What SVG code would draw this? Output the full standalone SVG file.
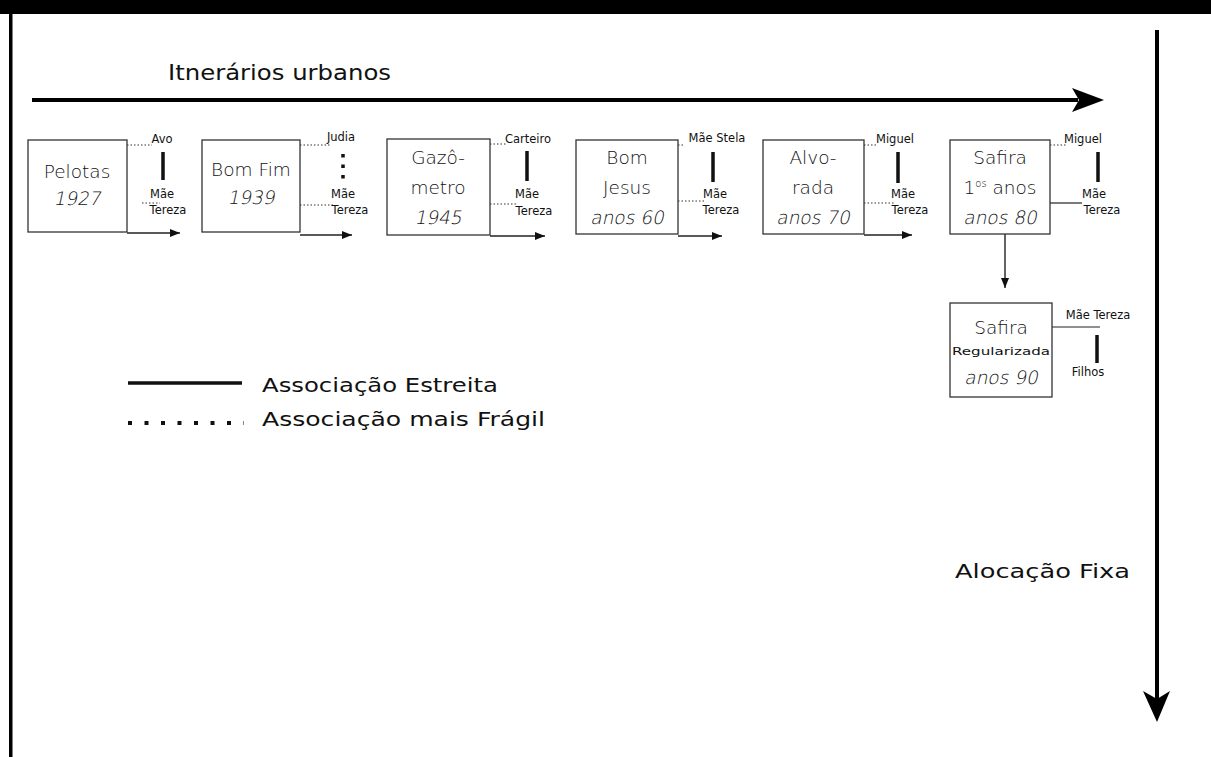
<svg xmlns="http://www.w3.org/2000/svg" width="1211" height="757" viewBox="0 0 1211 757">
<defs>
<style>
.t{font-family:"DejaVu Sans","Liberation Sans",sans-serif;fill:#111}
.bx{fill:#fff;stroke:#333;stroke-width:1.3}
.big{font-size:18.5px;font-weight:200}
.sm{font-size:11.5px}
.dot{stroke:#333;stroke-width:1;stroke-dasharray:1.5 2;fill:none}
.sol{stroke:#222;stroke-width:1.2;fill:none}
.bar{stroke:#111;stroke-width:3.5}
.arr{stroke:#222;stroke-width:1.4;fill:none}
</style>
<marker id="ah" viewBox="0 0 10 8" refX="10" refY="4" markerWidth="10" markerHeight="8" markerUnits="userSpaceOnUse" orient="auto">
<path d="M0,0 L10,4 L0,8 z" fill="#111"/>
</marker>
</defs>
<rect width="1211" height="757" fill="#fff"/>
<rect x="0" y="0" width="1211" height="14" fill="#000"/>
<rect x="9" y="14" width="3.5" height="743" fill="#000"/>

<g id="connectors">
  <line x1="32" y1="100" x2="1078" y2="100" stroke="#000" stroke-width="4"/>
  <polygon points="1072,88 1104,100 1072,112 1079,100" fill="#000"/>
  <line x1="1157" y1="30" x2="1157" y2="700" stroke="#000" stroke-width="4"/>
  <polygon points="1143,691 1157,722 1170,691 1157,699" fill="#000"/>
  <line class="dot" x1="127" y1="145" x2="152" y2="145"/>
  <line class="bar" x1="163" y1="152" x2="163" y2="180"/>
  <line class="dot" x1="142" y1="203" x2="160" y2="203"/>
  <line class="arr" x1="127" y1="233" x2="180" y2="233" marker-end="url(#ah)"/>
  <line class="dot" x1="300" y1="145" x2="330" y2="145"/>
  <line x1="343" y1="154" x2="343" y2="182" stroke="#111" stroke-width="3.5" stroke-dasharray="3.5 7"/>
  <line class="dot" x1="300" y1="205" x2="333" y2="205"/>
  <line class="arr" x1="300" y1="235" x2="352" y2="235" marker-end="url(#ah)"/>
  <line class="dot" x1="490" y1="144" x2="506" y2="144"/>
  <line class="bar" x1="527" y1="151" x2="527" y2="181"/>
  <line class="dot" x1="490" y1="204" x2="517" y2="204"/>
  <line class="arr" x1="490" y1="236" x2="545" y2="236" marker-end="url(#ah)"/>
  <line class="dot" x1="678" y1="145" x2="685" y2="145"/>
  <line class="bar" x1="713" y1="152" x2="713" y2="182"/>
  <line class="dot" x1="678" y1="201" x2="705" y2="201"/>
  <line class="arr" x1="678" y1="236" x2="722" y2="236" marker-end="url(#ah)"/>
  <line class="dot" x1="864" y1="145" x2="878" y2="145"/>
  <line class="bar" x1="898" y1="152" x2="898" y2="183"/>
  <line class="dot" x1="864" y1="203" x2="895" y2="203"/>
  <line class="arr" x1="864" y1="235" x2="912" y2="235" marker-end="url(#ah)"/>
  <line class="dot" x1="1050" y1="145" x2="1066" y2="145"/>
  <line class="bar" x1="1098" y1="152" x2="1098" y2="182"/>
  <line class="sol" x1="1050" y1="203" x2="1082" y2="203"/>
  <line class="arr" x1="1005" y1="234" x2="1005" y2="288" marker-end="url(#ah)"/>
  <line class="sol" x1="1052" y1="327" x2="1100" y2="327"/>
  <line class="bar" x1="1097" y1="335" x2="1097" y2="363"/>
  <line x1="128" y1="383" x2="242" y2="383" stroke="#111" stroke-width="3.5"/>
  <line x1="128" y1="423" x2="244" y2="423" stroke="#111" stroke-width="4" stroke-dasharray="4 12.5"/>
</g>

<text class="t" x="168" y="80" font-size="21" textLength="223" lengthAdjust="spacingAndGlyphs">Itnerários urbanos</text>

<g id="n1">
  <rect class="bx" x="28" y="140" width="99" height="92"/>
  <text class="t big" x="77" y="178" text-anchor="middle">Pelotas</text>
  <text class="t big" transform="translate(77,205) skewX(-12)" text-anchor="middle">1927</text>
  <text class="t sm" x="162" y="143" text-anchor="middle">Avo</text>
  <text class="t sm" x="162" y="198" text-anchor="middle">Mãe</text>
  <text class="t sm" x="168" y="214" text-anchor="middle">Tereza</text>
</g>
<g id="n2">
  <rect class="bx" x="202" y="140" width="98" height="92"/>
  <text class="t big" x="251" y="176" text-anchor="middle">Bom Fim</text>
  <text class="t big" transform="translate(251,204) skewX(-12)" text-anchor="middle">1939</text>
  <text class="t sm" x="341" y="141" text-anchor="middle">Judia</text>
  <text class="t sm" x="343" y="198" text-anchor="middle">Mãe</text>
  <text class="t sm" x="350" y="214" text-anchor="middle">Tereza</text>
</g>
<g id="n3">
  <rect class="bx" x="387" y="139" width="103" height="96"/>
  <text class="t big" x="438" y="164" text-anchor="middle">Gazô-</text>
  <text class="t big" x="438" y="194" text-anchor="middle">metro</text>
  <text class="t big" transform="translate(438,224) skewX(-12)" text-anchor="middle">1945</text>
  <text class="t sm" x="528" y="143" text-anchor="middle">Carteiro</text>
  <text class="t sm" x="527" y="198" text-anchor="middle">Mãe</text>
  <text class="t sm" x="534" y="215" text-anchor="middle">Tereza</text>
</g>
<g id="n4">
  <rect class="bx" x="576" y="140" width="102" height="94"/>
  <text class="t big" x="627" y="164" text-anchor="middle">Bom</text>
  <text class="t big" x="627" y="194" text-anchor="middle">Jesus</text>
  <text class="t big" transform="translate(627,224) skewX(-12)" text-anchor="middle">anos 60</text>
  <text class="t sm" x="717" y="142" text-anchor="middle">Mãe Stela</text>
  <text class="t sm" x="715" y="198" text-anchor="middle">Mãe</text>
  <text class="t sm" x="721" y="214" text-anchor="middle">Tereza</text>
</g>
<g id="n5">
  <rect class="bx" x="763" y="140" width="101" height="94"/>
  <text class="t big" x="813" y="164" text-anchor="middle">Alvo-</text>
  <text class="t big" x="813" y="194" text-anchor="middle">rada</text>
  <text class="t big" transform="translate(813,224) skewX(-12)" text-anchor="middle">anos 70</text>
  <text class="t sm" x="895" y="143" text-anchor="middle">Miguel</text>
  <text class="t sm" x="903" y="198" text-anchor="middle">Mãe</text>
  <text class="t sm" x="910" y="214" text-anchor="middle">Tereza</text>
</g>
<g id="n6">
  <rect class="bx" x="950" y="140" width="100" height="94"/>
  <text class="t big" x="1000" y="164" text-anchor="middle">Safira</text>
  <text class="t big" x="1000" y="194" text-anchor="middle">1<tspan font-size="10" dy="-7">os</tspan><tspan dy="7"> anos</tspan></text>
  <text class="t big" transform="translate(1000,224) skewX(-12)" text-anchor="middle">anos 80</text>
  <text class="t sm" x="1083" y="143" text-anchor="middle">Miguel</text>
  <text class="t sm" x="1094" y="198" text-anchor="middle">Mãe</text>
  <text class="t sm" x="1102" y="214" text-anchor="middle">Tereza</text>
</g>
<g id="n7">
  <rect class="bx" x="950" y="303" width="102" height="94"/>
  <text class="t big" x="1001" y="334" text-anchor="middle">Safira</text>
  <text class="t" x="1001" y="355" font-size="11" text-anchor="middle" textLength="98" lengthAdjust="spacingAndGlyphs">Regularizada</text>
  <text class="t big" transform="translate(1001,384) skewX(-12)" text-anchor="middle">anos 90</text>
  <text class="t sm" x="1098" y="319" text-anchor="middle">Mãe Tereza</text>
  <text class="t sm" x="1088" y="376" text-anchor="middle">Filhos</text>
</g>

<g id="legend">
  <text class="t" x="262" y="392" font-size="20" textLength="236" lengthAdjust="spacingAndGlyphs">Associação Estreita</text>
  <text class="t" x="262" y="426" font-size="20" textLength="283" lengthAdjust="spacingAndGlyphs">Associação mais Frágil</text>
</g>
<text class="t" x="955" y="578" font-size="20" textLength="175" lengthAdjust="spacingAndGlyphs">Alocação Fixa</text>
</svg>
